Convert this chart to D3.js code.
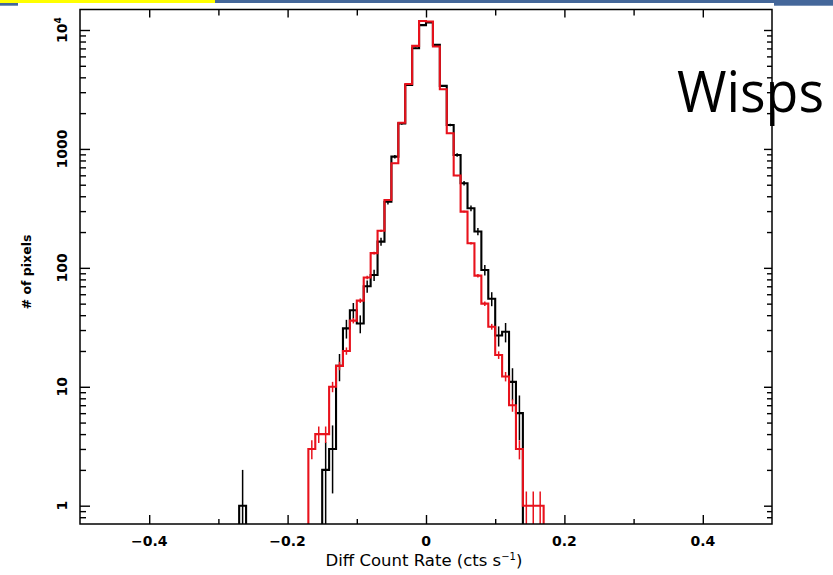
<!DOCTYPE html>
<html>
<head>
<meta charset="utf-8">
<script src="https://cdn.jsdelivr.net/npm/d3@7/dist/d3.min.js"></script>
<style>
  body { margin: 0; background: #fff; }
  svg { display: block; }
</style>
</head>
<body>
<svg id="chart" width="833" height="575"></svg>
<script>
"use strict";

// bins are 0.01 wide; first bin starts at -0.27
var binStart = -0.27,
  binWidth = 0.01;

// counts per bin, left edge -0.27 ... 0.16
var blackCounts = [
  1, 0, 0, 0, 0, 0, 0, 0, 0, 0, 0, 0,
  2, 3, 15, 31, 44, 34, 70, 87, 166, 360, 861, 1640, 3450, 7030, 11000, 11600,
  7500, 3390, 1590, 890, 515, 317, 202, 96, 55, 27, 29, 11, 6, 0, 0, 0
];
var redCounts = [
  0, 0, 0, 0, 0, 0, 0, 0, 0, 0,
  3, 4, 4, 10, 15, 20, 36, 53, 83, 133, 205, 372, 758, 1660, 3520, 7350, 11900, 11800,
  7260, 3180, 1355, 597, 297, 161, 86, 50, 32, 18.5, 12.2, 7, 3, 1, 1, 1
];
// red curve is a rescaled histogram, so its poisson bars are smaller
var blackErrScale = 1,
  redErrScale = 0.1;

var xTicksMajor = [-0.4, -0.2, 0, 0.2, 0.4];
var xTicksMinor = [-0.3, -0.1, 0.1, 0.3];
var yTicksMajor = [1, 10, 100, 1000, 10000];
var yTickLabels = ["1", "10", "100", "1000", "10^4"];

var xTitle = "Diff Count Rate (cts s",
  yTitle = "# of pixels",
  sideLabel = "Wisps";

var frame = { l: 80, r: 772, t: 9.5, b: 524 };

var svg = d3.select("#chart");

// slide decoration along the top
svg.append("rect").attr("x", 0).attr("y", 0).attr("width", 215).attr("height", 3).attr("fill", "#ffff00");
svg.append("rect").attr("x", 215).attr("y", 0).attr("width", 618).attr("height", 3).attr("fill", "#44679a");
svg.append("rect").attr("x", 0).attr("y", 3).attr("width", 18).attr("height", 2.7).attr("fill", "#44679a");
svg.append("rect").attr("x", 774).attr("y", 3).attr("width", 59).attr("height", 2.7).attr("fill", "#44679a");

var x = d3.scaleLinear().domain([-0.5, 0.5]).range([frame.l, frame.r]);
var y = d3.scaleLog().domain([Math.pow(10, -0.1539), Math.pow(10, 4.1724)]).range([frame.b, frame.t]);

var yMinor = [];
d3.range(-1, 5).forEach(function(k) {
  d3.range(2, 10).forEach(function(m) {
    var v = m * Math.pow(10, k);
    if (v >= y.domain()[0] && v <= y.domain()[1]) yMinor.push(v);
  });
});

function yv(c) {
  return c > 0 ? y(c) : frame.b + 8;
}

svg.append("clipPath").attr("id", "plotClip")
  .append("rect")
  .attr("x", frame.l).attr("y", frame.t)
  .attr("width", frame.r - frame.l).attr("height", frame.b - frame.t);

var plotG = svg.append("g").attr("clip-path", "url(#plotClip)");

function drawSeries(counts, errScale, colour) {
  var pts = counts.map(function(c, i) { return [binStart + i * binWidth, c]; });
  pts.unshift([binStart, 0]);
  pts.push([binStart + counts.length * binWidth, counts[counts.length - 1]]);
  pts.push([binStart + counts.length * binWidth, 0]);

  var line = d3.line()
    .x(function(d) { return x(d[0]); })
    .y(function(d) { return yv(d[1]); })
    .curve(d3.curveStepAfter);

  plotG.append("path")
    .datum(pts)
    .attr("d", line)
    .attr("fill", "none")
    .attr("stroke", colour)
    .attr("stroke-width", 2.1);

  var bins = counts.map(function(c, i) { return { lo: binStart + i * binWidth, c: c }; })
    .filter(function(d) { return d.c > 0; });

  plotG.append("g").selectAll("line")
    .data(bins)
    .join("line")
    .attr("x1", function(d) { return x(d.lo + binWidth / 2); })
    .attr("x2", function(d) { return x(d.lo + binWidth / 2); })
    .attr("y1", function(d) { var e = Math.sqrt(d.c * errScale); return yv(d.c - e); })
    .attr("y2", function(d) { var e = Math.sqrt(d.c * errScale); return y(d.c + e); })
    .attr("stroke", colour)
    .attr("stroke-width", 1.5);
}

drawSeries(blackCounts, blackErrScale, "#000");
drawSeries(redCounts, redErrScale, "#e8121c");

// ticks, all pointing inward
function tickAxis(axis, tx, ty) {
  var g = svg.append("g").attr("transform", "translate(" + tx + "," + ty + ")").call(axis);
  g.select(".domain").remove();
  g.selectAll(".tick line").attr("stroke", "#000").attr("stroke-width", 1.4);
  g.selectAll(".tick text").remove();
  return g;
}

tickAxis(d3.axisBottom(x).tickValues(xTicksMajor).tickSize(-9), 0, frame.b);
tickAxis(d3.axisBottom(x).tickValues(xTicksMinor).tickSize(-5), 0, frame.b);
tickAxis(d3.axisTop(x).tickValues(xTicksMajor).tickSize(-8), 0, frame.t);
tickAxis(d3.axisTop(x).tickValues(xTicksMinor).tickSize(-6), 0, frame.t);
tickAxis(d3.axisLeft(y).tickValues(yTicksMajor).tickSize(-10), frame.l, 0);
tickAxis(d3.axisLeft(y).tickValues(yMinor).tickSize(-6), frame.l, 0);
tickAxis(d3.axisRight(y).tickValues(yTicksMajor).tickSize(-8), frame.r, 0);
tickAxis(d3.axisRight(y).tickValues(yMinor).tickSize(-5), frame.r, 0);

svg.append("rect")
  .attr("x", frame.l).attr("y", frame.t)
  .attr("width", frame.r - frame.l).attr("height", frame.b - frame.t)
  .attr("fill", "none")
  .attr("stroke", "#000")
  .attr("stroke-width", 1.5);

// tick labels
var fmt = function(d) { return d === 0 ? "0" : d3.format(".1f")(d); };
svg.append("g").selectAll("text")
  .data(xTicksMajor)
  .join("text")
  .attr("x", function(d) { return x(d); })
  .attr("y", 546)
  .attr("text-anchor", "middle")
  .style("font-family", "DejaVu Sans")
  .style("font-weight", "bold")
  .style("font-size", "14px")
  .text(fmt);

var yLab = svg.append("g").selectAll("text")
  .data(yTicksMajor)
  .join("text")
  .attr("transform", function(d) { return "translate(67," + y(d) + ") rotate(-90)"; })
  .attr("text-anchor", "middle")
  .style("font-family", "DejaVu Sans")
  .style("font-weight", "bold")
  .style("font-size", "14px");
yLab.each(function(d, i) {
  var t = d3.select(this), lab = yTickLabels[i];
  if (lab.indexOf("^") > 0) {
    var parts = lab.split("^");
    t.append("tspan").text(parts[0]);
    t.append("tspan").attr("dy", -6).style("font-size", "9px").text(parts[1]);
  } else {
    t.text(lab);
  }
});

// axis titles
var xt = svg.append("text")
  .attr("x", 424)
  .attr("y", 565.7)
  .attr("text-anchor", "middle")
  .style("font-family", "DejaVu Sans")
  .style("font-size", "16.5px")
  .text(xTitle);
xt.append("tspan").attr("dy", -6).style("font-size", "10px").text("\u22121");
xt.append("tspan").attr("dy", 6).text(")");

svg.append("text")
  .attr("transform", "translate(31,272) rotate(-90)")
  .attr("text-anchor", "middle")
  .style("font-family", "DejaVu Sans")
  .style("font-weight", "bold")
  .style("font-size", "12.5px")
  .text(yTitle);

svg.append("text")
  .attr("x", 677)
  .attr("y", 112)
  .attr("textLength", 147)
  .attr("lengthAdjust", "spacingAndGlyphs")
  .style("font-family", "Open Sans")
  .style("font-size", "56px")
  .text(sideLabel);
</script>
</body>
</html>
